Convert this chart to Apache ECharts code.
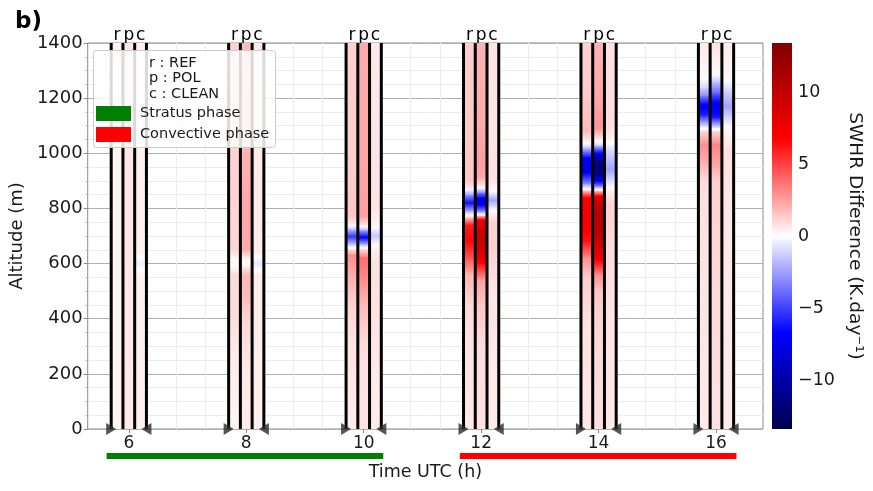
<!DOCTYPE html>
<html>
<head>
<meta charset="utf-8">
<script src="https://cdn.jsdelivr.net/npm/echarts@6/dist/echarts.min.js"></script>
<style>
  html, body { margin: 0; padding: 0; background: #ffffff; }
  #chart { width: 873px; height: 491px; }
</style>
</head>
<body>
<div id="chart"></div>
<script>
// Output times (UTC hours) of the three simulations
const hours = [6, 8, 10, 12, 14, 16];
const runLetters = ['r', 'p', 'c'];
const runLabels = ['r : REF', 'p : POL', 'c : CLEAN'];
const hourTicks = [6, 8, 10, 12, 14, 16];
const colorbarTicks = [-10, -5, 0, 5, 10];
const minorGridHours = [5.8, 6.3, 6.8, 7.3, 7.8, 8.3, 8.8, 9.3, 9.8, 10.3, 10.8, 11.3,
                        11.8, 12.3, 12.8, 13.3, 13.8, 14.3, 14.8, 15.3, 15.8, 16.3];
const phaseNames = ['Stratus phase', 'Convective phase'];
const phaseStart = [5.65, 11.65];
const phaseEnd = [10.35, 16.35];

// SWHR difference profiles (K/day): [altitude (m), value] pairs, one profile per hour
const refProfiles = [
  [[0, 0.3], [1400, 0.3]],
  [[0, 0.3], [250, 0.5], [400, 0.9], [560, 1.0], [590, 0.1], [615, 0.1], [650, 1.1], [1400, 1.2]],
  [[0, 0.5], [300, 0.7], [450, 1.2], [560, 2.2], [630, 3.0], [655, 0.3], [670, -1.5], [698, -5.5],
   [725, -1.5], [740, 0.3], [770, 1.5], [1000, 1.3], [1400, 1.2]],
  [[0, 0.6], [300, 0.7], [450, 1.0], [560, 2.0], [620, 4.5], [680, 6.5], [740, 6.0], [770, 0.8],
   [790, -2.0], [820, -6.5], [850, -2.5], [870, 0.3], [900, 1.5], [1000, 1.4], [1400, 1.3]],
  [[0, 0.6], [400, 0.8], [550, 1.3], [620, 3.0], [680, 6.2], [760, 7.2], [840, 6.8], [868, 0.5],
   [890, -3.0], [940, -8.0], [985, -6.5], [1020, -1.5], [1040, 0.3], [1080, 1.8], [1200, 1.4], [1400, 1.2]],
  [[0, 0.6], [600, 0.7], [900, 0.9], [960, 2.0], [1030, 3.0], [1080, 1.0], [1100, -1.0], [1140, -6.0],
   [1175, -7.0], [1210, -3.0], [1240, -1.0], [1280, 0.2], [1400, 0.6]]
];
const polProfiles = [
  [[0, 0.6], [1400, 0.7]],
  [[0, 0.5], [200, 0.6], [380, 1.0], [480, 1.8], [560, 1.9], [595, 0.2], [615, 0.1], [650, 2.2],
   [800, 2.3], [1000, 2.0], [1400, 1.8]],
  [[0, 0.7], [300, 0.9], [450, 1.8], [540, 3.0], [620, 3.8], [655, 0.5], [670, -2.0], [695, -7.0],
   [722, -2.0], [737, 0.5], [770, 2.5], [1000, 2.3], [1400, 2.2]],
  [[0, 0.8], [300, 0.9], [450, 1.5], [540, 2.5], [600, 6.5], [650, 9.5], [720, 9.5], [760, 7.0],
   [775, 0.5], [790, -3.0], [825, -9.0], [858, -3.0], [875, 0.3], [910, 2.2], [960, 2.6], [1100, 2.2], [1400, 2.0]],
  [[0, 0.8], [350, 1.0], [500, 1.5], [560, 3.0], [620, 7.5], [700, 10.0], [780, 10.5], [840, 8.5],
   [865, 0.8], [880, -3.0], [920, -11.0], [960, -12.0], [1000, -7.0], [1030, -1.0], [1050, 0.5],
   [1090, 2.8], [1200, 2.3], [1400, 2.0]],
  [[0, 0.8], [500, 1.0], [900, 1.2], [950, 2.2], [1030, 3.3], [1080, 1.0], [1095, -1.0], [1130, -6.0],
   [1175, -7.5], [1220, -4.0], [1260, -1.5], [1290, 0.2], [1400, 0.8]]
];
const cleanProfiles = [
  [[0, 0.4], [560, 0.4], [600, -0.5], [640, 0.4], [1400, 0.4]],
  [[0, 0.4], [560, 0.5], [600, -0.7], [640, 0.5], [1400, 0.6]],
  [[0, 0.5], [600, 0.8], [660, 0.3], [700, -1.5], [740, 0.3], [800, 0.7], [1400, 0.6]],
  [[0, 0.5], [500, 0.7], [650, 1.2], [750, 1.2], [790, 0.2], [830, -2.5], [865, 0.2], [900, 0.8], [1400, 0.7]],
  [[0, 0.6], [500, 0.8], [700, 1.0], [820, 1.2], [870, 0.3], [940, -2.5], [1010, -1.0], [1050, 0.4],
   [1100, 0.9], [1400, 0.8]],
  [[0, 0.5], [800, 0.6], [1000, 0.8], [1090, 0.2], [1170, -2.5], [1230, -1.0], [1270, 0.2], [1400, 0.5]]
];

// Layout of each triplet of columns around its hour
const runOffsets = [-0.2, 0, 0.2];
const halfWidth = 0.1;
const altMin = 0, altMax = 1400;
const vmin = -13.4, vmax = 13.4;
// seismic colormap
const seismic = ['#00004d', '#0000ff', '#ffffff', '#ff0000', '#800000'];

function cmap(v) {
  const t = Math.min(1, Math.max(0, (v - vmin) / (vmax - vmin)));
  return echarts.color.lerp(t, seismic);
}

// One cell per profile segment: [x centre, alt bottom, alt top, value bottom, value top]
const runProfiles = [refProfiles, polProfiles, cleanProfiles];
const cells = [];
hours.forEach((h, i) => {
  runProfiles.forEach((profiles, k) => {
    const p = profiles[i];
    for (let j = 0; j < p.length - 1; j++) {
      cells.push([h + runOffsets[k], p[j][0], p[j + 1][0], p[j][1], p[j + 1][1]]);
    }
  });
});

// Column boundaries and the markers at their outer feet
const boundaries = [];
const leftFeet = [];
const rightFeet = [];
hours.forEach(h => {
  [-0.3, -0.1, 0.1, 0.3].forEach(o => boundaries.push([h + o]));
  leftFeet.push([h - 0.3, altMin]);
  rightFeet.push([h + 0.3, altMin]);
});
const columnCentres = [];
hours.forEach(h => runOffsets.forEach(o => columnCentres.push(+(h + o).toFixed(2))));

const font = 'DejaVu Sans';
const textColor = '#1a1a1a';

const chart = echarts.init(document.getElementById('chart'), null, { renderer: 'canvas' });

chart.setOption({
  animation: false,
  backgroundColor: '#ffffff',
  textStyle: { fontFamily: font },
  grid: [
    { left: 86, right: 110, top: 43, bottom: 62, show: true, borderColor: '#8a8a8a', borderWidth: 1,
      backgroundColor: 'transparent' },
    { left: 772, width: 20, top: 43, bottom: 62 },
    { left: 86, right: 110, top: 450, height: 12 }
  ],
  xAxis: [
    {
      type: 'value', gridIndex: 0, position: 'bottom', min: 5.3, max: 16.8,
      axisLine: { show: false },
      axisTick: { show: true, customValues: hourTicks, length: 4, lineStyle: { color: '#8a8a8a' } },
      axisLabel: { customValues: hourTicks, fontSize: 17, color: textColor, margin: 6, fontFamily: font },
      splitLine: { show: false },
      name: 'Time UTC (h)', nameLocation: 'middle', nameGap: 34,
      nameTextStyle: { fontSize: 17.5, color: textColor, fontFamily: font }
    },
    {
      type: 'value', gridIndex: 0, position: 'top', min: 5.3, max: 16.8,
      axisLine: { show: false },
      axisTick: { show: false },
      axisLabel: {
        customValues: columnCentres, fontSize: 17, color: '#000', margin: -1, fontFamily: font,
        formatter: v => {
          const off = v - 2 * Math.round(v / 2);
          return runLetters[Math.round(off / 0.2) + 1];
        }
      },
      splitLine: { show: false }
    },
    {
      type: 'value', gridIndex: 0, position: 'bottom', min: 5.3, max: 16.8,
      axisLine: { show: false },
      axisTick: { show: false, customValues: minorGridHours },
      axisLabel: { show: false },
      splitLine: { show: true, lineStyle: { color: '#ececec', width: 1 } }
    },
    { type: 'value', gridIndex: 1, min: 0, max: 1, show: false },
    { type: 'value', gridIndex: 2, min: 5.3, max: 16.8, show: false }
  ],
  yAxis: [
    {
      type: 'value', gridIndex: 0, min: altMin, max: altMax, interval: 200,
      axisLine: { show: false },
      axisTick: { show: true, length: 4, lineStyle: { color: '#8a8a8a' } },
      minorTick: { show: true, splitNumber: 4, length: 2, lineStyle: { color: '#aaaaaa' } },
      axisLabel: { fontSize: 18, color: textColor, margin: 5, fontFamily: font, formatter: v => String(v) },
      splitLine: { show: true, lineStyle: { color: '#b0b0b0', width: 1 } },
      minorSplitLine: { show: true, lineStyle: { color: '#ececec', width: 1 } },
      name: 'Altitude (m)', nameLocation: 'middle', nameGap: 55,
      nameTextStyle: { fontSize: 18, color: textColor, fontFamily: font }
    },
    {
      type: 'value', gridIndex: 1, min: vmin, max: vmax, position: 'right',
      axisLine: { show: false },
      axisTick: { show: true, customValues: colorbarTicks, length: 4, lineStyle: { color: '#333' } },
      axisLabel: {
        customValues: colorbarTicks, fontSize: 17.5, color: textColor, margin: 6, fontFamily: font,
        formatter: v => (v < 0 ? '\u2212' + Math.abs(v) : String(v))
      },
      splitLine: { show: false },
      name: 'SWHR Difference (K.day\u207B\u00B9)', nameLocation: 'middle', nameGap: 53, nameRotate: -90,
      nameTextStyle: { fontSize: 18.5, color: textColor, fontFamily: font }
    },
    { type: 'value', gridIndex: 2, min: 0, max: 1, show: false }
  ],
  legend: {
    data: phaseNames, z: 100,
    orient: 'vertical', left: 96, top: 106, padding: 0,
    itemWidth: 35, itemHeight: 15, itemGap: 6, icon: 'rect', selectedMode: false,
    textStyle: { fontSize: 14.5, color: textColor, fontFamily: font, lineHeight: 15, padding: [0, 0, 0, 4] }
  },
  graphic: [
    {
      type: 'rect', z: 90, left: 93, top: 50,
      shape: { width: 182, height: 97, r: 3 },
      style: { fill: 'rgba(255,255,255,0.85)', stroke: '#cccccc', lineWidth: 1 }
    },
    ...runLabels.map((t, i) => ({
      type: 'text', z: 91, left: 149, top: 55.5 + i * 15.5,
      style: { text: t, fontSize: 14.5, fill: textColor, fontFamily: font }
    })),
    {
      type: 'text', left: 15, top: 11,
      style: { text: 'b)', fontSize: 23, fontWeight: 'bold', fill: '#000', fontFamily: font }
    }
  ],
  series: [
    {
      type: 'custom', name: 'SWHR difference', xAxisIndex: 0, yAxisIndex: 0, clip: true, z: 2,
      data: cells,
      renderItem: (params, api) => {
        const xc = api.value(0), a0 = api.value(1), a1 = api.value(2);
        const v0 = api.value(3), v1 = api.value(4);
        const tl = api.coord([xc - halfWidth, a1]);
        const br = api.coord([xc + halfWidth, a0]);
        const stops = [];
        const n = 8;
        for (let s = 0; s <= n; s++) {
          const f = s / n;
          stops.push({ offset: f, color: cmap(v1 + (v0 - v1) * f) });
        }
        return {
          type: 'rect',
          shape: { x: tl[0], y: tl[1] - 0.5, width: br[0] - tl[0], height: br[1] - tl[1] + 1 },
          style: { fill: new echarts.graphic.LinearGradient(0, 0, 0, 1, stops) }
        };
      }
    },
    {
      type: 'custom', name: 'boundaries', xAxisIndex: 0, yAxisIndex: 0, clip: false, z: 5,
      data: boundaries,
      renderItem: (params, api) => {
        const x = api.value(0);
        const p0 = api.coord([x, altMin]);
        const p1 = api.coord([x, altMax]);
        return {
          type: 'line',
          shape: { x1: p0[0], y1: p0[1], x2: p1[0], y2: p1[1] },
          style: { stroke: '#000000', lineWidth: 3 }
        };
      }
    },
    {
      type: 'scatter', name: 'left feet', xAxisIndex: 0, yAxisIndex: 0, clip: false, z: 6,
      data: leftFeet, symbol: 'triangle', symbolSize: [12, 10], symbolRotate: -90,
      itemStyle: { color: '#2b2b2b' }, silent: true
    },
    {
      type: 'scatter', name: 'right feet', xAxisIndex: 0, yAxisIndex: 0, clip: false, z: 6,
      data: rightFeet, symbol: 'triangle', symbolSize: [12, 10], symbolRotate: 90,
      itemStyle: { color: '#2b2b2b' }, silent: true
    },
    {
      type: 'custom', name: 'colorbar', xAxisIndex: 3, yAxisIndex: 1, clip: false,
      data: [[0, 1, vmin, vmax]],
      renderItem: (params, api) => {
        const tl = api.coord([api.value(0), api.value(3)]);
        const br = api.coord([api.value(1), api.value(2)]);
        const stops = seismic.slice().reverse().map((c, i, a) => ({ offset: i / (a.length - 1), color: c }));
        return {
          type: 'rect',
          shape: { x: tl[0], y: tl[1], width: br[0] - tl[0], height: br[1] - tl[1] },
          style: { fill: new echarts.graphic.LinearGradient(0, 0, 0, 1, stops) }
        };
      }
    },
    ...phaseNames.map((name, i) => ({
      type: 'line', name: name, xAxisIndex: 4, yAxisIndex: 2, clip: false,
      data: [[phaseStart[i], 0.5], [phaseEnd[i], 0.5]],
      symbol: 'none',
      lineStyle: { color: i === 0 ? '#008000' : '#ff0000', width: 6, cap: 'butt' },
      itemStyle: { color: i === 0 ? '#008000' : '#ff0000' }
    }))
  ]
});
</script>
</body>
</html>
